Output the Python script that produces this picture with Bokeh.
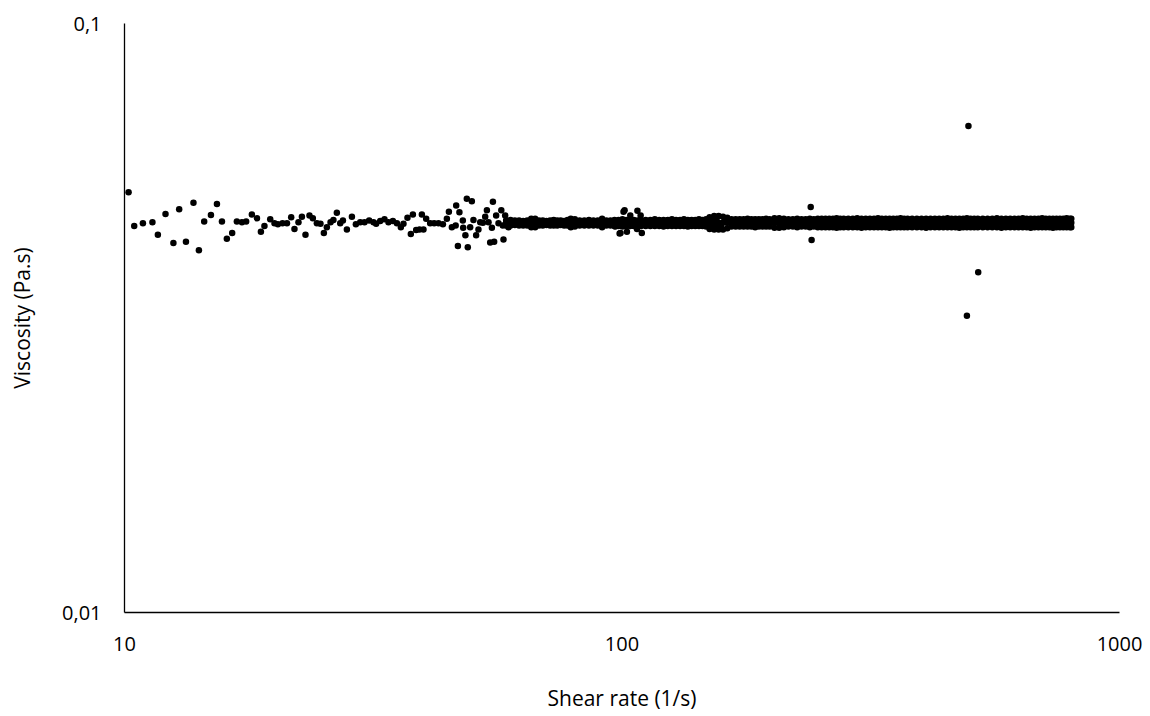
from bokeh.plotting import figure
from bokeh.models import Range1d, FixedTicker, ColumnDataSource
from bokeh.embed import file_html
from bokeh.resources import INLINE

# ---- sparse low-shear readings ----
shear_sparse = [10.19, 10.46, 10.89, 11.38, 11.67, 12.09, 12.54, 12.88, 13.29, 13.76,
                14.11, 14.46, 14.92, 15.34, 15.70, 16.06, 16.46, 16.82, 17.22, 17.56,
                18.03, 18.46, 18.80, 19.11, 19.63, 20.02, 20.34, 20.78, 21.21, 21.63,
                21.96, 22.37, 22.73, 23.11, 23.54, 23.91, 24.36, 24.77, 25.16, 25.51,
                25.95, 26.30, 26.72, 27.14, 27.48, 27.99, 28.65, 29.18, 29.77, 30.37,
                31.03, 31.66, 32.05, 32.66, 33.31, 33.93, 34.63, 35.28, 35.93, 36.37,
                37.05, 37.63, 37.99, 38.57, 39.17, 39.60, 39.90, 40.40, 41.15, 41.92,
                42.77, 43.65, 44.46, 44.88, 45.50, 46.31, 46.42, 46.79, 47.12, 47.87,
                47.95, 48.44, 48.76, 48.98, 49.52, 49.91, 50.28, 50.91, 51.46, 51.88,
                52.53, 53.09, 53.51, 53.91, 54.33, 54.76, 55.02, 55.34, 55.85, 56.46,
                57.20, 57.60, 57.78, 58.23, 59.13]
visc_sparse = [0.0517, 0.0453, 0.0458, 0.0460, 0.0438, 0.0475, 0.0424, 0.0484, 0.0426, 0.0496,
               0.0412, 0.0461, 0.0473, 0.0494, 0.0461, 0.0431, 0.0441, 0.0461, 0.0460, 0.0461,
               0.0474, 0.0467, 0.0443, 0.0453, 0.0465, 0.0458, 0.0456, 0.0458, 0.0458, 0.0469,
               0.0448, 0.0460, 0.0470, 0.0438, 0.0472, 0.0467, 0.0458, 0.0457, 0.0441, 0.0451,
               0.0460, 0.0464, 0.0477, 0.0458, 0.0463, 0.0447, 0.0470, 0.0456, 0.0460, 0.0460,
               0.0463, 0.0460, 0.0457, 0.0462, 0.0465, 0.0460, 0.0462, 0.0458, 0.0451, 0.0457,
               0.0468, 0.0439, 0.0474, 0.0446, 0.0447, 0.0474, 0.0447, 0.0466, 0.0458, 0.0458,
               0.0458, 0.0456, 0.0466, 0.0479, 0.0451, 0.0454, 0.0491, 0.0419, 0.0478, 0.0463,
               0.0450, 0.0437, 0.0504, 0.0417, 0.0451, 0.0499, 0.0464, 0.0437, 0.0447, 0.0460,
               0.0459, 0.0470, 0.0482, 0.0460, 0.0425, 0.0450, 0.0498, 0.0426, 0.0472, 0.0458,
               0.0482, 0.0454, 0.0430, 0.0472, 0.0451]

# ---- scattered readings around 100 1/s and 150-160 1/s ----
shear_cluster = [96.9, 98.9, 99.3, 100.7, 101.2, 102.3, 103.9, 107.2, 107.4, 109.0, 109.6,
                 151.5, 151.5, 154.8, 155.0, 158.0, 161.0]
visc_cluster = [0.0452, 0.0440, 0.0441, 0.0479, 0.0482, 0.0443, 0.0472, 0.0448, 0.0481, 0.0472, 0.0441,
                0.0465, 0.0453, 0.0465, 0.0453, 0.0453, 0.0465]

# ---- dense band: shear rate with upper / middle / lower readings ----
shear_band = [58.5, 59.7, 60.9, 62.1, 63.3, 64.5, 65.7, 66.9, 68.1, 69.3, 70.5, 71.7, 72.9, 74.1, 75.3, 76.5, 77.7, 78.9,
              80.4, 82.2, 84.0, 85.8, 87.6, 89.4, 91.2, 93.0, 94.8, 96.6, 98.4, 100.2, 102.0, 103.8, 105.6, 107.4, 109.2,
              111.6, 114.0, 116.4, 118.8, 121.2, 123.6, 126.0, 128.4, 130.8, 133.2, 135.6, 138.0, 140.4, 142.8, 145.2, 147.6, 150.0,
              153.2, 156.4, 159.6, 162.8, 166.0, 169.2, 172.4, 175.6, 178.8, 182.0, 185.2, 188.4, 191.6, 194.8, 198.0,
              202.5, 207.0, 211.5, 216.0, 220.5, 225.0, 229.5, 234.0, 238.5, 243.0, 247.5, 252.0, 256.5, 261.0, 265.5, 270.0, 274.5, 279.0,
              285, 291, 297, 303, 309, 315, 321, 327, 333, 339, 345, 351, 357, 363, 369, 375,
              383, 391.5, 400, 408.5, 417, 425.5, 434, 442.5, 451, 459.5, 468, 476.5, 485, 493.5, 502, 510.5, 519,
              531, 543, 555, 567, 579, 591, 603, 615, 627, 639, 651, 663, 675, 687, 699, 711, 723, 735, 747, 759, 771, 783, 795, 800]
visc_band_hi = [0.0463, 0.0464, 0.0463, 0.0463, 0.0462, 0.0463, 0.0466, 0.0466, 0.0463, 0.0463, 0.0462, 0.0463, 0.0464, 0.0463, 0.0463, 0.0462, 0.0464, 0.0466,
                0.0465, 0.0463, 0.0463, 0.0464, 0.0463, 0.0463, 0.0466, 0.0463, 0.0463, 0.0464, 0.0464, 0.0465, 0.0464, 0.0464, 0.0464, 0.0463, 0.0464,
                0.0464, 0.0464, 0.0465, 0.0464, 0.0464, 0.0464, 0.0465, 0.0464, 0.0464, 0.0465, 0.0464, 0.0464, 0.0464, 0.0465, 0.0464, 0.0465, 0.0469,
                0.0471, 0.0471, 0.0470, 0.0468, 0.0465, 0.0465, 0.0465, 0.0465, 0.0466, 0.0465, 0.0465, 0.0465, 0.0465, 0.0466, 0.0465,
                0.0467, 0.0467, 0.0466, 0.0465, 0.0465, 0.0466, 0.0465, 0.0465, 0.0466, 0.0465, 0.0466, 0.0466, 0.0466, 0.0466, 0.0466, 0.0467, 0.0466, 0.0466,
                0.0466, 0.0466, 0.0467, 0.0466, 0.0466, 0.0466, 0.0466, 0.0467, 0.0466, 0.0466, 0.0466, 0.0466, 0.0466, 0.0467, 0.0466, 0.0466,
                0.0466, 0.0466, 0.0466, 0.0466, 0.0466, 0.0466, 0.0466, 0.0466, 0.0467, 0.0466, 0.0466, 0.0466, 0.0466, 0.0467, 0.0466, 0.0466, 0.0466,
                0.0466, 0.0466, 0.0466, 0.0467, 0.0466, 0.0466, 0.0466, 0.0466, 0.0466, 0.0467, 0.0466, 0.0466, 0.0466, 0.0466, 0.0467, 0.0466, 0.0466, 0.0466, 0.0466, 0.0466, 0.0466, 0.0467, 0.0466, 0.0466]
visc_band_mid = [0.0459, 0.0458, 0.0459, 0.0459, 0.0459, 0.0458, 0.0459, 0.0459, 0.0459, 0.0458, 0.0459, 0.0459, 0.0459, 0.0458, 0.0459, 0.0459, 0.0459, 0.0459,
                 0.0459, 0.0459, 0.0458, 0.0459, 0.0459, 0.0459, 0.0459, 0.0458, 0.0459, 0.0459, 0.0459, 0.0459, 0.0458, 0.0459, 0.0459, 0.0459, 0.0459,
                 0.0459, 0.0459, 0.0459, 0.0458, 0.0459, 0.0459, 0.0459, 0.0459, 0.0458, 0.0459, 0.0459, 0.0459, 0.0459, 0.0459, 0.0458, 0.0459, 0.0459,
                 0.0459, 0.0459, 0.0459, 0.0459, 0.0459, 0.0459, 0.0458, 0.0459, 0.0459, 0.0459, 0.0459, 0.0459, 0.0458, 0.0459, 0.0459,
                 0.0459, 0.0459, 0.0458, 0.0459, 0.0459, 0.0459, 0.0459, 0.0458, 0.0459, 0.0459, 0.0459, 0.0459, 0.0458, 0.0459, 0.0459, 0.0459, 0.0459, 0.0458,
                 0.0459, 0.0459, 0.0459, 0.0458, 0.0459, 0.0459, 0.0459, 0.0459, 0.0459, 0.0458, 0.0459, 0.0459, 0.0459, 0.0459, 0.0459, 0.0459,
                 0.0459, 0.0458, 0.0459, 0.0459, 0.0459, 0.0459, 0.0458, 0.0459, 0.0459, 0.0459, 0.0459, 0.0458, 0.0459, 0.0459, 0.0459, 0.0459, 0.0459,
                 0.0459, 0.0459, 0.0458, 0.0459, 0.0459, 0.0459, 0.0459, 0.0458, 0.0459, 0.0459, 0.0459, 0.0459, 0.0459, 0.0458, 0.0459, 0.0459, 0.0459, 0.0459, 0.0458, 0.0459, 0.0459, 0.0459, 0.0459, 0.0459]
visc_band_lo = [0.0454, 0.0454, 0.0455, 0.0454, 0.0454, 0.0454, 0.0451, 0.0451, 0.0454, 0.0454, 0.0455, 0.0454, 0.0454, 0.0454, 0.0455, 0.0454, 0.0454, 0.0451,
                0.0452, 0.0454, 0.0454, 0.0454, 0.0454, 0.0454, 0.0451, 0.0454, 0.0454, 0.0453, 0.0453, 0.0452, 0.0453, 0.0453, 0.0453, 0.0454, 0.0453,
                0.0453, 0.0453, 0.0453, 0.0453, 0.0452, 0.0453, 0.0453, 0.0453, 0.0453, 0.0453, 0.0452, 0.0453, 0.0453, 0.0453, 0.0453, 0.0452, 0.0448,
                0.0447, 0.0447, 0.0447, 0.0449, 0.0452, 0.0452, 0.0452, 0.0452, 0.0452, 0.0452, 0.0451, 0.0452, 0.0452, 0.0452, 0.0452,
                0.0450, 0.0450, 0.0451, 0.0452, 0.0452, 0.0451, 0.0452, 0.0452, 0.0451, 0.0452, 0.0451, 0.0451, 0.0451, 0.0451, 0.0451, 0.0450, 0.0451, 0.0451,
                0.0451, 0.0451, 0.0451, 0.0450, 0.0451, 0.0451, 0.0451, 0.0451, 0.0451, 0.0451, 0.0450, 0.0451, 0.0451, 0.0451, 0.0451, 0.0451,
                0.0451, 0.0451, 0.0451, 0.0450, 0.0451, 0.0451, 0.0451, 0.0451, 0.0451, 0.0451, 0.0451, 0.0450, 0.0451, 0.0451, 0.0451, 0.0451, 0.0451,
                0.0451, 0.0451, 0.0451, 0.0451, 0.0450, 0.0451, 0.0451, 0.0451, 0.0451, 0.0451, 0.0451, 0.0450, 0.0451, 0.0451, 0.0451, 0.0451, 0.0451, 0.0450, 0.0451, 0.0451, 0.0451, 0.0451, 0.0451, 0.0451]

# ---- isolated outliers ----
shear_outlier = [239.5, 240.5, 497.0, 520.0, 493.5]
visc_outlier = [0.0488, 0.0429, 0.0670, 0.0378, 0.0319]

x_ticks = [10, 100, 1000]
x_tick_labels = ["10", "100", "1000"]
y_ticks = [0.01, 0.1]
y_tick_labels = ["0,01", "0,1"]

xs = shear_sparse + shear_cluster + shear_band + shear_band + shear_band + shear_outlier
ys = visc_sparse + visc_cluster + visc_band_hi + visc_band_mid + visc_band_lo + visc_outlier
n = min(len(xs), len(ys))
src = ColumnDataSource(dict(x=xs[:n], y=ys[:n]))

p = figure(width=1146, height=714, x_axis_type="log", y_axis_type="log",
           x_range=Range1d(10, 1000), y_range=Range1d(0.01, 0.1),
           output_backend="svg", toolbar_location=None,
           min_border_left=124, min_border_right=27, min_border_top=23, min_border_bottom=101)

p.scatter("x", "y", source=src, size=6.5, marker="circle", fill_color="black", line_color=None)

p.outline_line_color = None
p.xgrid.visible = False
p.ygrid.visible = False
p.background_fill_color = "white"
p.border_fill_color = "white"

font = "Open Sans"
p.xaxis.ticker = FixedTicker(ticks=x_ticks, minor_ticks=[])
p.xaxis.major_label_overrides = dict(zip(x_ticks, x_tick_labels))
p.yaxis.ticker = FixedTicker(ticks=y_ticks, minor_ticks=[])
p.yaxis.major_label_overrides = dict(zip(y_ticks, y_tick_labels))

for ax in (p.xaxis[0], p.yaxis[0]):
    ax.axis_line_color = "black"
    ax.axis_line_width = 1.3
    ax.major_tick_line_color = None
    ax.minor_tick_line_color = None
    ax.major_tick_out = 0
    ax.major_tick_in = 0
    ax.major_label_text_font = font
    ax.major_label_text_font_size = "20px"
    ax.major_label_text_color = "black"
    ax.axis_label_text_font = font
    ax.axis_label_text_font_size = "21px"
    ax.axis_label_text_font_style = "normal"
    ax.axis_label_text_color = "black"

p.xaxis.axis_label = "Shear rate (1/s)"
p.yaxis.axis_label = "Viscosity (Pa.s)"
p.xaxis.major_label_standoff = 24
p.xaxis.axis_label_standoff = 30
p.yaxis.major_label_standoff = 23
p.yaxis.axis_label_standoff = 23

open("out.html", "w").write(file_html(p, INLINE))
